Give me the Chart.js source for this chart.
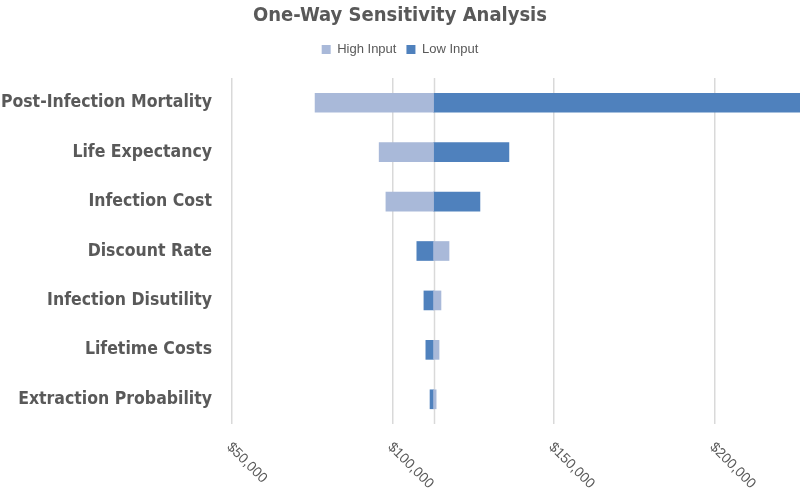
<!DOCTYPE html>
<html>
<head>
<meta charset="utf-8">
<script src="https://cdn.jsdelivr.net/npm/chart.js@4.4.1/dist/chart.umd.min.js"></script>
<style>
  html, body { margin: 0; padding: 0; background: #fff; }
  #wrap { width: 800px; height: 490px; position: relative; }
</style>
</head>
<body>
<div id="wrap"><canvas id="myChart"></canvas></div>
<script>
// tornado chart data
const categories = ['Post-Infection Mortality', 'Life Expectancy', 'Infection Cost', 'Discount Rate',
    'Infection Disutility', 'Lifetime Costs', 'Extraction Probability'];
const baseValue = 112600;
const highInput = [75800, 95700, 97800, 117400, 114900, 114300, 113400];
const lowInput = [226400, 136000, 127000, 107400, 109600, 110200, 111500];
const xTicks = [50000, 100000, 150000, 200000];

const textGray = '#595959';
const labelFont = '"DejaVu Sans Condensed", "Liberation Sans", sans-serif';

function money(v) {
    return '$' + v.toLocaleString('en-US');
}

// base line + rotated x labels, extra gap under legend
const tornadoExtras = {
    id: 'tornadoExtras',
    afterInit(chart) {
        const lg = chart.legend;
        const origFit = lg.fit;
        lg.fit = function () {
            origFit.call(this);
            this.height += 12;
        };
    },
    beforeDatasetsDraw(chart) {
        const x = chart.scales.x;
        const ctx = chart.ctx;
        const px = Math.round(x.getPixelForValue(baseValue)) + 0.5;
        ctx.save();
        ctx.strokeStyle = '#d9d9d9';
        ctx.lineWidth = 1.5;
        ctx.beginPath();
        ctx.moveTo(px, chart.chartArea.top);
        ctx.lineTo(px, chart.chartArea.bottom);
        ctx.stroke();
        ctx.restore();
    },
    afterDraw(chart) {
        const x = chart.scales.x;
        const ctx = chart.ctx;
        ctx.save();
        ctx.fillStyle = textGray;
        ctx.font = '14px "Liberation Sans", sans-serif';
        ctx.textAlign = 'left';
        ctx.textBaseline = 'middle';
        xTicks.forEach(v => {
            const px = x.getPixelForValue(v);
            ctx.save();
            ctx.translate(px - 3, chart.chartArea.bottom + 21);
            ctx.rotate(Math.PI / 4);
            ctx.fillText(money(v), 0, 0);
            ctx.restore();
        });
        ctx.restore();
    }
};

new Chart(document.getElementById('myChart'), {
    type: 'bar',
    data: {
        labels: categories,
        datasets: [
            {
                label: 'High Input',
                data: highInput.map(v => [baseValue, v]),
                backgroundColor: '#a9b9d9',
                grouped: false,
                barThickness: 19,
            },
            {
                label: 'Low Input',
                data: lowInput.map(v => [baseValue, v]),
                backgroundColor: '#4f81bd',
                grouped: false,
                barThickness: 19,
            }
        ],
    },
    options: {
        indexAxis: 'y',
        responsive: true,
        maintainAspectRatio: false,
        animation: false,
        layout: {
            padding: { left: 0, right: 0, top: 0, bottom: 66 }
        },
        scales: {
            x: {
                min: 50000,
                max: 226400,
                afterBuildTicks: (scale) => {
                    scale.ticks = xTicks.map(v => ({ value: v }));
                },
                ticks: { display: false },
                grid: { color: '#d9d9d9', lineWidth: 1.5, drawTicks: false },
                border: { display: false },
            },
            y: {
                afterFit: (scale) => {
                    scale.width = 232;
                },
                grid: { display: false, drawTicks: false },
                border: { display: false },
                ticks: {
                    color: textGray,
                    padding: 20,
                    font: { family: labelFont, size: 17.5, weight: 'bold' },
                },
            }
        },
        plugins: {
            title: {
                display: true,
                text: 'One-Way Sensitivity Analysis',
                color: textGray,
                font: { family: labelFont, size: 20, weight: 'bold' },
                padding: { top: 4, bottom: 5 },
            },
            legend: {
                display: true,
                labels: {
                    color: textGray,
                    boxWidth: 9,
                    boxHeight: 9,
                    padding: 10,
                    font: { family: '"Liberation Sans", sans-serif', size: 13 },
                },
            },
            tooltip: { enabled: false },
        }
    },
    plugins: [tornadoExtras]
});
</script>
</body>
</html>
